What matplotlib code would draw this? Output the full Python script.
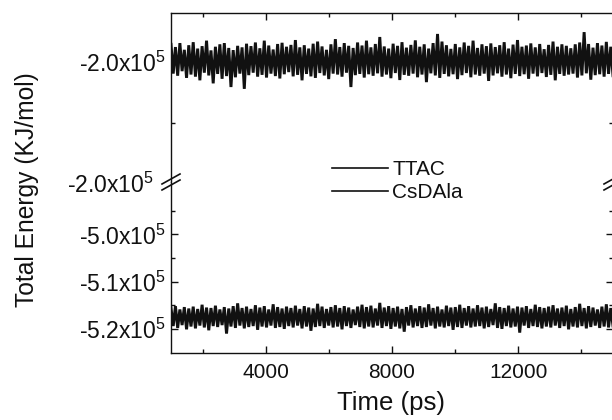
import numpy as np
import matplotlib
matplotlib.use("Agg")
import matplotlib.pyplot as plt
from matplotlib.ticker import FixedLocator, FixedFormatter

plt.rcParams['font.family'] = ['Liberation Sans', 'DejaVu Sans']
plt.rcParams['mathtext.fontset'] = 'custom'
plt.rcParams['mathtext.rm'] = 'Liberation Sans'
plt.rcParams['mathtext.it'] = 'Liberation Sans'

# ---------------- data ----------------
t_start, t_end = 1000, 15000

ttac = [
    -199420, -200380, -199510, -200450, -199380, -200300, -199600, -200520, -199450, -200410,
    -199350, -200480, -199560, -200600, -199480, -200350, -199300, -200440, -199620, -200700,
    -199500, -200390, -199420, -200550, -199380, -200460, -199540, -200820, -199610, -200500,
    -199470, -200380, -199520, -200880, -199400, -200430, -199480, -200350, -199360, -200480,
    -199550, -200420, -199300, -200510, -199460, -200380, -199590, -200460, -199410, -200540,
    -199370, -200400, -199500, -200330, -199440, -200470, -199280, -200420, -199520, -200600,
    -199450, -200390, -199560, -200470, -199400, -200520, -199330, -200360, -199490, -200440,
    -199600, -200560, -199420, -200380, -199250, -200410, -199510, -200480, -199380, -200350,
    -199470, -200820, -199540, -200430, -199360, -200390, -199460, -200510, -199300, -200400,
    -199520, -200450, -199410, -200370, -199180, -200480, -199490, -200410, -199560, -200530,
    -199400, -200360, -199470, -200590, -199350, -200420, -199530, -200450, -199440, -200380,
    -199290, -200500, -199500, -200410, -199420, -200660, -199560, -200370, -199380, -200440,
    -199080, -200520, -199330, -200390, -199450, -200470, -199570, -200400, -199410, -200560,
    -199520, -200430, -199360, -200360, -199470, -200500, -199300, -200410, -199540, -200450,
    -199420, -200380, -199480, -200620, -199390, -200440, -199510, -200370, -199450, -200480,
    -199350, -200410, -199560, -200530, -199430, -200390, -199280, -200460, -199500, -200400,
    -199460, -200550, -199390, -200380, -199520, -200470, -199410, -200360, -199580, -200490,
    -199440, -200420, -199330, -200600, -199500, -200390, -199420, -200450, -199470, -200410,
    -199550, -200380, -199420, -200510, -199360, -200440, -199020, -200370, -199410, -200580,
    -199530, -200430, -199380, -200400, -199460, -200480, -199340, -200390, -199500, -200450,
]

csdala = [
    -515600, -519400, -515200, -519800, -515900, -519200, -515400, -520100, -515700, -519500,
    -515300, -519900, -515800, -519300, -514900, -519700, -515500, -520300, -515600, -519400,
    -515100, -519600, -515900, -519200, -515400, -521000, -515700, -519500, -515200, -519800,
    -514600, -519300, -515600, -519900, -515300, -519600, -515800, -519400, -515000, -520200,
    -515500, -519500, -515200, -519700, -515900, -519300, -514800, -519800, -515400, -519600,
    -515700, -520000, -515300, -519400, -515600, -519700, -515100, -519300, -515800, -519900,
    -515200, -519500, -515500, -520400, -515700, -519600, -514700, -519400, -515300, -519800,
    -515800, -519300, -515400, -519700, -515000, -519500, -515600, -520100, -515200, -519400,
    -515500, -519800, -515900, -519200, -515300, -519600, -514900, -519900, -515400, -519500,
    -515100, -519700, -515700, -519300, -514500, -519800, -515500, -519400, -515200, -520000,
    -515600, -519500, -515300, -519900, -515800, -520600, -515400, -519300, -515000, -519700,
    -515700, -519400, -515200, -519800, -515500, -519600, -514800, -519300, -515600, -519900,
    -515300, -519500, -515900, -519700, -515100, -519400, -515500, -520200, -515400, -519600,
    -514900, -519800, -515600, -519300, -515200, -519700, -515700, -519500, -515000, -519400,
    -515500, -519900, -515300, -519600, -515800, -519200, -514600, -519800, -515400, -520000,
    -515600, -519400, -515100, -519700, -515700, -519500, -515300, -520800, -515500, -519300,
    -515200, -519800, -515800, -519400, -514900, -519600, -515400, -519900, -515600, -519500,
    -515300, -519700, -515000, -519300, -515700, -519800, -515500, -519400, -515100, -520100,
    -515800, -519500, -515400, -519700, -514700, -519400, -515600, -519900, -515200, -519600,
    -515500, -519300, -515900, -519800, -515300, -519500, -514800, -519700, -515600, -519400,
]

x_major = [4000, 8000, 12000]
x_minor = [2000, 6000, 10000, 14000]
x_labels = ["4000", "8000", "12000"]

top_major = [-200000]
top_minor = [-202000]
top_labels = ["-2.0x10$^5$"]

bot_major = [-500000, -510000, -520000]
bot_minor = [-495000, -505000, -515000]
bot_labels = ["-5.0x10$^5$", "-5.1x10$^5$", "-5.2x10$^5$"]

break_label = "-2.0x10$^5$"
series_names = ["TTAC", "CsDAla"]

# ---------------- figure ----------------
W, H = 612, 420
fig = plt.figure(figsize=(W / 100, H / 100), dpi=100)
ink = "#111111"

L, R = 171, 613
y_top, y_brk, y_bot = 13, 182, 353
ax_top = fig.add_axes([L / W, 1 - y_brk / H, (R - L) / W, (y_brk - y_top) / H])
ax_bot = fig.add_axes([L / W, 1 - y_bot / H, (R - L) / W, (y_bot - y_brk) / H])

t = np.linspace(t_start, t_end, len(ttac))
l1, = ax_top.plot(t, ttac, color=ink, lw=2.1, solid_joinstyle='miter', label=series_names[0])
l2, = ax_bot.plot(t, csdala, color=ink, lw=2.1, solid_joinstyle='miter', label=series_names[1])

for ax in (ax_top, ax_bot):
    ax.set_xlim(t_start, t_end)
    for s in ax.spines.values():
        s.set_linewidth(1.0)
        s.set_color(ink)
    ax.tick_params(which='both', direction='in', colors=ink, width=1.0,
                   left=True, right=True)
    ax.tick_params(axis='y', labelsize=16.5, pad=4)
    ax.tick_params(axis='x', labelsize=15)
    ax.tick_params(which='major', length=5)
    ax.tick_params(which='minor', length=3)
    ax.xaxis.set_major_locator(FixedLocator(x_major))
    ax.xaxis.set_minor_locator(FixedLocator(x_minor))

ax_top.set_ylim(-203934, -198393)
ax_top.spines['bottom'].set_visible(False)
ax_top.tick_params(axis='x', which='both', bottom=False, top=True,
                   labelbottom=False, labeltop=False)
ax_top.yaxis.set_major_locator(FixedLocator(top_major))
ax_top.yaxis.set_major_formatter(FixedFormatter(top_labels))
ax_top.yaxis.set_minor_locator(FixedLocator(top_minor))

ax_bot.set_ylim(-525106, -488936)
ax_bot.spines['top'].set_visible(False)
ax_bot.tick_params(axis='x', which='both', bottom=True, top=False, pad=7)
ax_bot.xaxis.set_major_formatter(FixedFormatter(x_labels))
ax_bot.yaxis.set_major_locator(FixedLocator(bot_major))
ax_bot.yaxis.set_major_formatter(FixedFormatter(bot_labels))
ax_bot.yaxis.set_minor_locator(FixedLocator(bot_minor))

# break marks
dx, dy = 9 / (R - L), 5 / (y_bot - y_brk)
for xb in (0, 1):
    for off in (-3, 3):
        o = off / (y_bot - y_brk)
        ax_bot.plot([xb - dx, xb + dx], [1 - dy + o, 1 + dy + o],
                    transform=ax_bot.transAxes, color=ink, lw=1.2, clip_on=False)

fig.text(154 / W, 1 - 185 / H, break_label, ha='right', va='center',
         fontsize=16.5, color=ink)

fig.text(27 / W, 1 - 190 / H, "Total Energy (KJ/mol)", rotation=90,
         ha='center', va='center', fontsize=17.7, color=ink)
fig.text(391 / W, 1 - 403 / H, "Time (ps)", ha='center', va='center',
         fontsize=18.5, color=ink)

leg = fig.legend(handles=[l1, l2], loc='upper left',
                 bbox_to_anchor=(332 / W, 1 - 160 / H), frameon=False,
                 borderpad=0, borderaxespad=0, handlelength=2.7,
                 handletextpad=0.2, labelspacing=0.2, fontsize=15)
for txt in leg.get_texts():
    txt.set_color(ink)
for ln in leg.get_lines():
    ln.set_linewidth(1.2)

fig.savefig("out.png", dpi=100)
